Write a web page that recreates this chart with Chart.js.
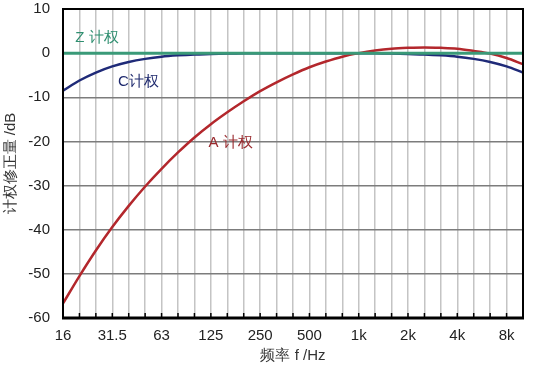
<!DOCTYPE html>
<html>
<head>
<meta charset="utf-8">
<script src="https://cdn.jsdelivr.net/npm/chart.js@4"></script>
<style>
  html, body { margin: 0; padding: 0; background: #fff; }
  #wrap { width: 551px; height: 376px; }
</style>
</head>
<body>
<div id="wrap"><canvas id="weightChart"></canvas></div>
<script>
// 1/3 octave bands, 16 Hz .. 10 kHz
const bands = ['16', '20', '25', '31.5', '40', '50', '63', '80', '100', '125', '160', '200',
  '250', '315', '400', '500', '630', '800', '1k', '1.25k', '1.6k', '2k', '2.5k', '3.15k',
  '4k', '5k', '6.3k', '8k', '10k'];
const tickLabels = ['16', '31.5', '63', '125', '250', '500', '1k', '2k', '4k', '8k'];

const aWeight = [-56.7, -50.5, -44.7, -39.4, -34.6, -30.2, -26.2, -22.5, -19.1, -16.1, -13.4, -10.9,
  -8.6, -6.6, -4.8, -3.2, -1.9, -0.8, 0, 0.6, 1.0, 1.2, 1.3, 1.2, 1.0, 0.5, -0.1, -1.1, -2.5];
const cWeight = [-8.5, -6.2, -4.4, -3.0, -2.0, -1.3, -0.8, -0.5, -0.3, -0.2, -0.1, 0,
  0, 0, 0, 0, 0, 0, 0, 0, -0.1, -0.2, -0.3, -0.5, -0.8, -1.3, -2.0, -3.0, -4.4];
const zWeight = bands.map(() => 0);

const font = '"Liberation Sans", Arial, sans-serif';

// curve names drawn inside the plot (band index, dB value)
const curveNames = [
  { text: 'Z 计权', x: 0.75, y: 3.4, color: '#2f8f70' },
  { text: 'C计权', x: 3.35, y: -6.6, color: '#1f2a6e' },
  { text: 'A 计权', x: 8.85, y: -20.4, color: '#9a2a2e' }
];

const framePlugin = {
  id: 'frame',
  afterDraw(chart) {
    const c = chart.ctx;
    const a = chart.chartArea;
    const xs = chart.scales.x;
    c.save();
    // inner tick marks on the bottom axis
    c.strokeStyle = '#000';
    c.lineWidth = 1.5;
    xs.ticks.forEach((t, i) => {
      const px = xs.getPixelForTick(i);
      c.beginPath();
      c.moveTo(px, a.bottom);
      c.lineTo(px, a.bottom - 5);
      c.stroke();
    });
    // frame
    c.lineWidth = 2;
    c.strokeRect(a.left, a.top, a.right - a.left, a.bottom - a.top);
    c.lineWidth = 3;
    c.beginPath();
    c.moveTo(a.left - 1, a.bottom);
    c.lineTo(a.right + 1, a.bottom);
    c.stroke();
    // curve names
    c.font = '15px ' + font;
    c.textBaseline = 'middle';
    c.textAlign = 'left';
    curveNames.forEach(n => {
      c.fillStyle = n.color;
      c.fillText(n.text, xs.getPixelForValue(n.x), chart.scales.y.getPixelForValue(n.y));
    });
    c.restore();
  }
};

new Chart(document.getElementById('weightChart'), {
  type: 'line',
  data: {
    labels: bands,
    datasets: [
      { label: 'Z', data: zWeight, borderColor: '#3a9a78', borderWidth: 3, order: 0 },
      { label: 'A', data: aWeight, borderColor: '#b3272c', borderWidth: 2.5, order: 1 },
      { label: 'C', data: cWeight, borderColor: '#1f2a78', borderWidth: 2.5, order: 2 }
    ]
  },
  options: {
    responsive: true,
    maintainAspectRatio: false,
    animation: false,
    events: [],
    layout: { padding: { top: 9, right: 28, left: 0, bottom: 0 } },
    elements: {
      point: { radius: 0 },
      line: { cubicInterpolationMode: 'monotone' }
    },
    plugins: {
      legend: { display: false },
      tooltip: { enabled: false }
    },
    scales: {
      x: {
        type: 'category',
        offset: false,
        afterFit(scale) {
          scale.height = 58;
          scale.paddingLeft = 0;
          scale.paddingRight = 0;
        },
        grid: { color: '#c4c4c4', lineWidth: 1.5, drawTicks: false },
        border: { display: false },
        ticks: {
          autoSkip: false,
          maxRotation: 0,
          padding: 9,
          color: '#222',
          font: { family: font, size: 15 },
          callback(v, i) {
            const l = bands[i];
            return tickLabels.includes(l) ? l : '';
          }
        },
        title: {
          display: true,
          text: '频率 f /Hz',
          color: '#333',
          padding: { top: 0, bottom: 11 },
          font: { family: font, size: 15 }
        }
      },
      y: {
        min: -60,
        max: 10,
        afterFit(scale) {
          scale.width = 63;
          scale.paddingTop = 0;
          scale.paddingBottom = 0;
        },
        grid: { color: '#7c7c7c', lineWidth: 1.5, drawTicks: false },
        border: { display: false },
        ticks: {
          stepSize: 10,
          padding: 13,
          color: '#222',
          font: { family: font, size: 15 }
        },
        title: {
          display: true,
          text: '计权修正量 /dB',
          color: '#333',
          padding: { top: 2, bottom: 0 },
          font: { family: font, size: 15 }
        }
      }
    }
  },
  plugins: [framePlugin]
});
</script>
</body>
</html>
